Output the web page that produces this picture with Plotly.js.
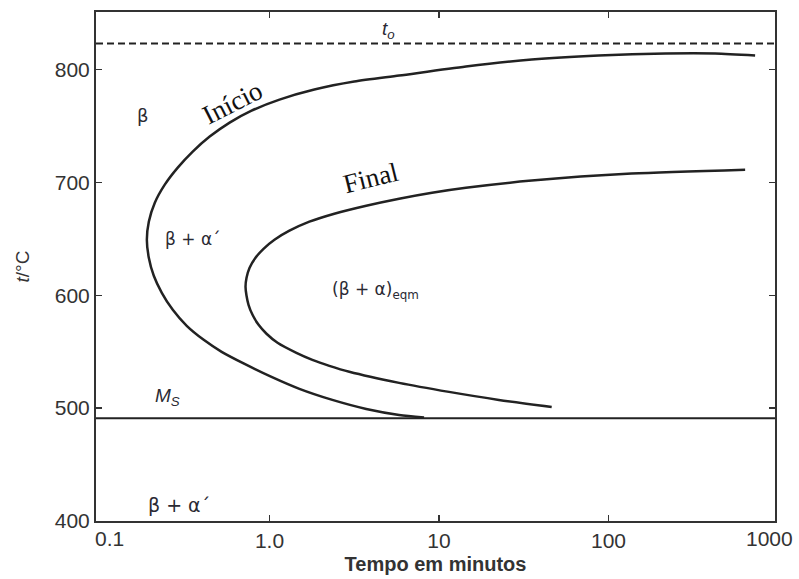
<!DOCTYPE html>
<html>
<head>
<meta charset="utf-8">
<script src="https://cdn.plot.ly/plotly-3.0.1.min.js"></script>
<style>html,body{margin:0;padding:0;background:#fff;}#chart{width:799px;height:579px;}</style>
</head>
<body>
<div id="chart"></div>
<script>
// Curve "Início" (start of transformation): time in minutes, temperature in °C
const inicioTime = [732.4, 426.0, 216.4, 87.35, 35.25, 14.41, 5.816, 3.162, 1.839, 1.145, 0.7836, 0.5818, 0.4437, 0.3524, 0.2876, 0.2411, 0.2106, 0.1941, 0.1890, 0.1941, 0.2077, 0.2316, 0.2688, 0.3249, 0.4090, 0.5220, 0.7127, 1.0275, 1.501, 2.348, 3.721, 5.816, 8.163];
const inicioTemp = [812.4, 814.2, 814.2, 812.4, 808.9, 802.7, 794.7, 789.4, 782.3, 773.4, 763.6, 753.0, 740.6, 727.3, 713.1, 698.0, 682.0, 665.2, 649.2, 633.3, 617.3, 602.2, 587.1, 572.9, 560.5, 549.9, 539.2, 527.7, 517.1, 507.3, 499.3, 494.0, 491.8];
// Curve "Final" (end of transformation)
const finalTime = [639.5, 136.6, 35.25, 14.41, 9.095, 5.816, 3.721, 2.412, 1.719, 1.311, 1.070, 0.922, 0.827, 0.763, 0.732, 0.722, 0.732, 0.752, 0.794, 0.862, 0.960, 1.115, 1.441, 1.790, 2.254, 2.955, 5.816, 11.45, 22.54, 46.2];
const finalTemp = [711.3, 707.8, 701.6, 695.3, 690.9, 685.6, 679.4, 672.3, 665.2, 657.2, 649.2, 641.2, 633.3, 624.4, 615.5, 607.5, 599.6, 591.6, 582.7, 573.8, 565.9, 557.9, 549.0, 542.8, 537.5, 532.2, 522.4, 514.4, 507.3, 501.1];
// Reference temperatures
const toTemp = 823;   // t_o (dashed)
const msTemp = 491;   // M_S (solid)
// Axis ticks
const xTickVals = [1, 10, 100];
const xTickText = ['1.0', '10', '100'];
const xEdgeLabels = ['0.1', '1000'];
const yTickVals = [400, 500, 600, 700, 800];
const yTickText = ['400', '500', '600', '700', '800'];

const lineStyle = {color: '#222', width: 2.5, shape: 'spline', smoothing: 0.7};
const traces = [
  {x: inicioTime, y: inicioTemp, mode: 'lines', line: lineStyle, name: 'Início', hoverinfo: 'x+y'},
  {x: finalTime, y: finalTemp, mode: 'lines', line: lineStyle, name: 'Final', hoverinfo: 'x+y'}
];

const tickFont = {family: 'Liberation Sans, Arial, sans-serif', size: 21, color: '#333'};
const txt = '#2a2a33';
function label(text, x, y, font, angle) {
  return {text: text, xref: 'paper', yref: 'paper', x: x, y: y, xanchor: 'center', yanchor: 'middle',
          showarrow: false, font: font, textangle: angle || 0};
}
const layout = {
  width: 799, height: 579,
  margin: {l: 96, r: 24, t: 12, b: 58},
  paper_bgcolor: '#fff', plot_bgcolor: '#fff',
  showlegend: false,
  xaxis: {
    type: 'log', range: [-1.0235, 2.982],
    tickvals: xTickVals, ticktext: xTickText,
    ticks: 'inside', ticklen: 6, tickwidth: 1.5, tickcolor: '#333',
    showline: true, linecolor: '#333', linewidth: 2, mirror: 'ticks',
    showgrid: false, zeroline: false,
    tickfont: tickFont,
    title: {text: 'Tempo em minutos', font: {family: 'Liberation Sans, Arial, sans-serif', size: 20, color: '#333', weight: 'bold'}, standoff: 6}
  },
  yaxis: {
    range: [400, 851],
    tickvals: yTickVals, ticktext: yTickText,
    ticks: 'inside', ticklen: 6, tickwidth: 1.5, tickcolor: '#333',
    showline: true, linecolor: '#333', linewidth: 2, mirror: 'ticks',
    showgrid: false, zeroline: false,
    tickfont: tickFont,
    title: {text: '<i>t</i>/°C', font: {family: 'Liberation Sans, Arial, sans-serif', size: 19, color: '#333'}, standoff: 20}
  },
  shapes: [
    {type: 'line', xref: 'paper', yref: 'y', x0: 0, x1: 1, y0: toTemp, y1: toTemp, line: {color: '#222', width: 2, dash: '7px,4px'}},
    {type: 'line', xref: 'paper', yref: 'y', x0: 0, x1: 1, y0: msTemp, y1: msTemp, line: {color: '#222', width: 2}}
  ],
  annotations: [
    label(xEdgeLabels[0], 0.0206, -0.0334, tickFont),
    label(xEdgeLabels[1], 0.9926, -0.0334, tickFont),
    label('β', 0.0692, 0.7976, {family: 'DejaVu Sans, sans-serif', size: 18, color: txt}),
    label('β + α´', 0.1429, 0.554, {family: 'DejaVu Sans, sans-serif', size: 17, color: txt}),
    label('(β + α)<sub>eqm</sub>', 0.411, 0.4538, {family: 'DejaVu Sans, sans-serif', size: 17, color: txt}),
    label('<i>M<sub>S</sub></i>', 0.1046, 0.2436, {family: 'Liberation Sans, Arial, sans-serif', size: 19, color: txt}),
    label('<i>t<sub>o</sub></i>', 0.4315, 0.9646, {family: 'Liberation Sans, Arial, sans-serif', size: 19, color: txt}),
    label('β + α´', 0.1222, 0.0314, {family: 'DejaVu Sans, sans-serif', size: 19, color: txt}),
    label('Início', 0.2003, 0.8213, {family: 'Liberation Serif, Times New Roman, serif', size: 27, color: '#111'}, -27),
    label('Final', 0.405, 0.674, {family: 'Liberation Serif, Times New Roman, serif', size: 27, color: '#111'}, -14)
  ]
};

Plotly.newPlot('chart', traces, layout, {staticPlot: true, displayModeBar: false});
</script>
</body>
</html>
